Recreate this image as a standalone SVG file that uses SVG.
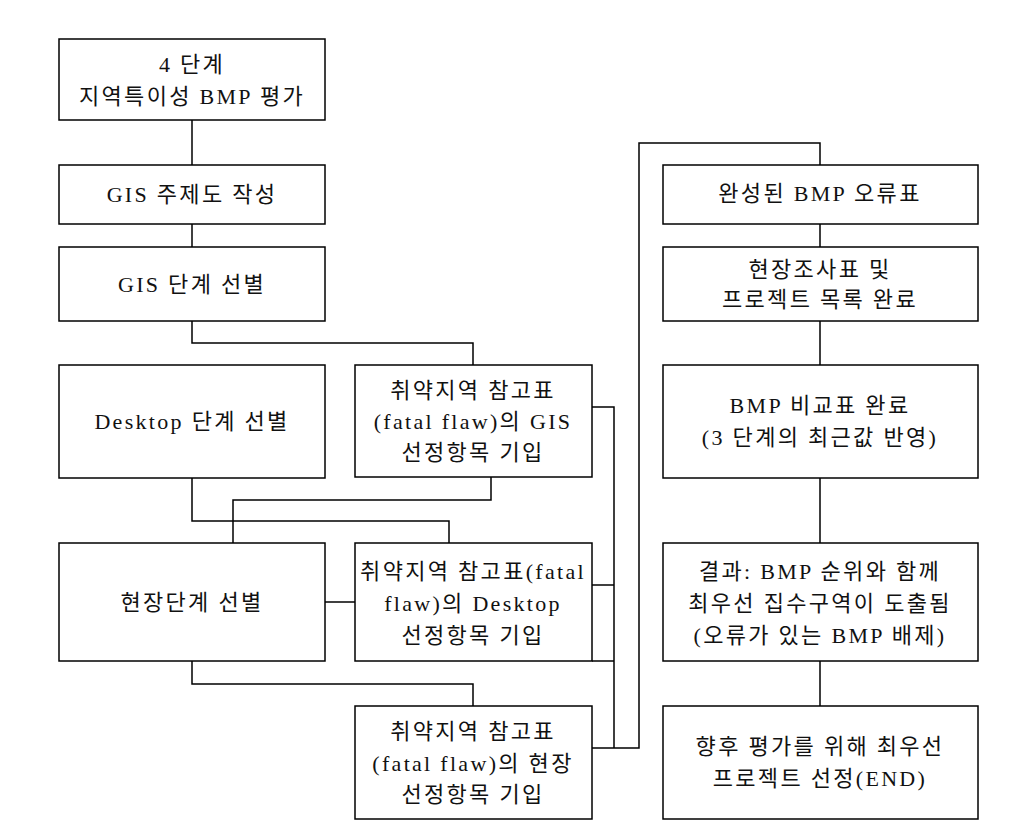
<svg xmlns="http://www.w3.org/2000/svg" width="1032" height="833" viewBox="0 0 1032 833">
<style>
.box{fill:#fff;stroke:#000;stroke-width:1.5}
.ln{fill:none;stroke:#000;stroke-width:1.5}
text{font-family:"Liberation Serif","Noto Sans CJK KR",serif;font-size:22px;fill:#111;text-anchor:middle;letter-spacing:2.3px}
</style>
<rect width="1032" height="833" fill="#fff"/>
<g id="connectors">
<path class="ln" d="M192,120V165"/>
<path class="ln" d="M192,224V247"/>
<path class="ln" d="M192,321V343H473V365"/>
<path class="ln" d="M192,478V521H449V543"/>
<path class="ln" d="M491,477V500H233V543"/>
<path class="ln" d="M325,602H355"/>
<path class="ln" d="M192,661V684H473V706"/>
<path class="ln" d="M592,407H614V748"/>
<path class="ln" d="M592,585H614"/>
<path class="ln" d="M592,661H614"/>
<path class="ln" d="M592,748H639V143H820V165"/>
<path class="ln" d="M820,224V247"/>
<path class="ln" d="M820,321V365"/>
<path class="ln" d="M820,478V543"/>
<path class="ln" d="M820,661V706"/>
</g>
<g id="n1"><rect class="box" x="59" y="39" width="266" height="81"/><text x="192" y="72">4 단계</text><text x="192" y="104">지역특이성 BMP 평가</text></g>
<g id="n2"><rect class="box" x="59" y="165" width="266" height="59"/><text x="192" y="202">GIS 주제도 작성</text></g>
<g id="n3"><rect class="box" x="59" y="247" width="266" height="74"/><text x="192" y="292">GIS 단계 선별</text></g>
<g id="n4"><rect class="box" x="59" y="365" width="266" height="113"/><text x="192" y="429">Desktop 단계 선별</text></g>
<g id="n5"><rect class="box" x="59" y="543" width="266" height="118"/><text x="192" y="610">현장단계 선별</text></g>
<g id="m1"><rect class="box" x="355" y="365" width="237" height="112"/><text x="473" y="398">취약지역 참고표</text><text x="473" y="429">(fatal flaw)의 GIS</text><text x="473" y="460">선정항목 기입</text></g>
<g id="m2"><rect class="box" x="355" y="543" width="237" height="118"/><text x="473" y="579">취약지역 참고표(fatal</text><text x="473" y="611">flaw)의 Desktop</text><text x="473" y="643">선정항목 기입</text></g>
<g id="m3"><rect class="box" x="355" y="706" width="237" height="113"/><text x="473" y="739">취약지역 참고표</text><text x="473" y="771">(fatal flaw)의 현장</text><text x="473" y="802">선정항목 기입</text></g>
<g id="r1"><rect class="box" x="663" y="165" width="315" height="59"/><text x="820" y="201">완성된 BMP 오류표</text></g>
<g id="r2"><rect class="box" x="663" y="247" width="315" height="74"/><text x="820" y="277">현장조사표 및</text><text x="820" y="307">프로젝트 목록 완료</text></g>
<g id="r3"><rect class="box" x="663" y="365" width="315" height="113"/><text x="820" y="413">BMP 비교표 완료</text><text x="820" y="445">(3 단계의 최근값 반영)</text></g>
<g id="r4"><rect class="box" x="663" y="543" width="315" height="118"/><text x="820" y="579">결과: BMP 순위와 함께</text><text x="820" y="611">최우선 집수구역이 도출됨</text><text x="820" y="643">(오류가 있는 BMP 배제)</text></g>
<g id="r5"><rect class="box" x="663" y="706" width="315" height="113"/><text x="820" y="754">향후 평가를 위해 최우선</text><text x="820" y="786">프로젝트 선정(END)</text></g>
</svg>
